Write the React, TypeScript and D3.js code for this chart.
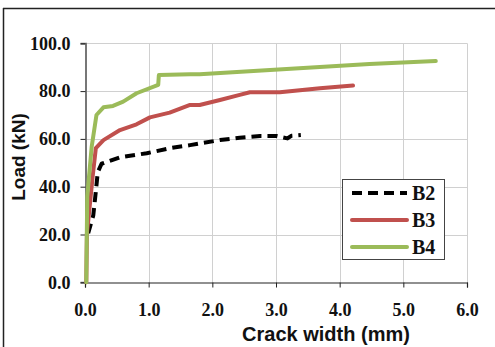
import React, { useEffect, useRef } from "react";
import * as d3 from "d3";

// crack width (mm) / load (kN)
const b2Crack = [0.05, 0.13, 0.17, 0.2, 0.26, 0.55, 0.97, 1.33, 1.65, 1.8, 2.12, 2.43, 2.75, 3.01, 3.18, 3.24, 3.39];
const b2Load = [20.5, 28, 38, 46, 49.6, 52.3, 54, 56.1, 57.4, 58.1, 59.5, 60.5, 61.2, 61.2, 60.2, 61.3, 61.6];

const b3Crack = [0.02, 0.03, 0.12, 0.17, 0.29, 0.55, 0.81, 1.02, 1.33, 1.65, 1.8, 2.12, 2.43, 2.59, 3.06, 3.69, 4.21];
const b3Load = [0, 20.2, 44.2, 56.1, 59.5, 63.7, 66.1, 69, 71, 74.2, 74.2, 76.3, 78.4, 79.5, 79.5, 81.2, 82.3];

const b4Crack = [0.02, 0.035, 0.105, 0.18, 0.29, 0.44, 0.6, 0.81, 1.15, 1.16, 1.65, 1.8, 4.47, 5.51];
const b4Load = [0, 35.8, 56.7, 70, 73.2, 73.8, 75.6, 79.1, 82.6, 86.7, 87, 87, 91.3, 92.6];

const seriesNames = ["B2", "B3", "B4"];
const seriesColors = ["#000000", "#C0504D", "#9BBB59"];
const xTicks = [0, 1, 2, 3, 4, 5, 6];
const yTicks = [0, 20, 40, 60, 80, 100];

function App() {
  const chartRef = useRef<SVGSVGElement>(null);

  useEffect(() => {
    drawChart();
  }, []);

  const drawChart = () => {
    const svg = d3.select(chartRef.current);
    svg.selectAll("*").remove();

    const x = d3.scaleLinear().domain([0, 6]).range([85, 467]);
    const y = d3.scaleLinear().domain([0, 100]).range([282.3, 43.3]);

    // outer frame (top and left edges only visible)
    svg.append("line").attr("x1", 3).attr("x2", 495).attr("y1", 8.5).attr("y2", 8.5)
      .attr("stroke", "#222").attr("stroke-width", 1.5);
    svg.append("line").attr("x1", 3.5).attr("x2", 3.5).attr("y1", 8).attr("y2", 347)
      .attr("stroke", "#222").attr("stroke-width", 1.5);

    // gridlines
    const grid = svg.append("g").attr("stroke", "#d0d0d0").attr("stroke-width", 1);
    grid.selectAll(".gy").data(yTicks.slice(1)).enter().append("line")
      .attr("x1", x(0)).attr("x2", x(6))
      .attr("y1", d => Math.round(y(d)) + 0.5).attr("y2", d => Math.round(y(d)) + 0.5);
    grid.selectAll(".gx").data(xTicks.slice(1)).enter().append("line")
      .attr("y1", y(0)).attr("y2", y(100))
      .attr("x1", d => Math.round(x(d)) + 0.5).attr("x2", d => Math.round(x(d)) + 0.5);

    // axes
    const xAxis = svg.append("g")
      .attr("transform", `translate(0,${Math.round(y(0)) + 0.5})`)
      .call(d3.axisBottom(x).tickValues(xTicks).tickSize(5).tickFormat(d3.format(".1f")));
    xAxis.select(".domain").attr("stroke", "#222").attr("stroke-width", 1.2);
    xAxis.selectAll(".tick line").attr("stroke", "#222");
    xAxis.selectAll("text")
      .attr("dy", "1.4em")
      .style("font-family", "'Liberation Serif', 'Times New Roman', serif")
      .style("font-weight", "bold")
      .style("font-size", "18px")
      .attr("fill", "#111");

    const yAxis = svg.append("g")
      .attr("transform", `translate(${Math.round(x(0)) + 0.5},0)`)
      .call(d3.axisLeft(y).tickValues(yTicks).tickSize(5).tickPadding(10).tickFormat(d3.format(".1f")));
    yAxis.select(".domain").attr("stroke", "#777").attr("stroke-width", 2);
    yAxis.selectAll(".tick line").attr("stroke", "#222");
    yAxis.selectAll("text")
      .style("font-family", "'Liberation Serif', 'Times New Roman', serif")
      .style("font-weight", "bold")
      .style("font-size", "18px")
      .attr("fill", "#111");

    // series
    const line = d3.line<[number, number]>()
      .x(d => x(d[0]))
      .y(d => y(d[1]));
    const series = [
      b2Crack.map((c, i) => [c, b2Load[i]] as [number, number]),
      b3Crack.map((c, i) => [c, b3Load[i]] as [number, number]),
      b4Crack.map((c, i) => [c, b4Load[i]] as [number, number]),
    ];
    series.forEach((s, i) => {
      svg.append("path")
        .datum(s)
        .attr("fill", "none")
        .attr("stroke", seriesColors[i])
        .attr("stroke-width", 4)
        .attr("stroke-linejoin", "round")
        .attr("stroke-linecap", i === 0 ? "butt" : "round")
        .attr("stroke-dasharray", i === 0 ? "10,6" : null)
        .attr("d", line);
    });

    // axis titles
    svg.append("text")
      .attr("x", 326)
      .attr("y", 341)
      .attr("text-anchor", "middle")
      .style("font-family", "'Liberation Sans', Arial, sans-serif")
      .style("font-weight", "bold")
      .style("font-size", "20px")
      .attr("fill", "#111")
      .text("Crack width (mm)");

    svg.append("text")
      .attr("transform", "translate(25,157) rotate(-90)")
      .attr("text-anchor", "middle")
      .style("font-family", "'Liberation Sans', Arial, sans-serif")
      .style("font-weight", "bold")
      .style("font-size", "19px")
      .attr("fill", "#111")
      .text("Load (kN)");

    // legend
    const legend = svg.append("g");
    legend.append("rect")
      .attr("x", 342.5).attr("y", 179.5).attr("width", 102).attr("height", 80)
      .attr("fill", "white").attr("stroke", "#444").attr("stroke-width", 1);
    seriesNames.forEach((name, i) => {
      const ly = 193 + i * 27;
      legend.append("line")
        .attr("x1", 352).attr("x2", 407).attr("y1", ly).attr("y2", ly)
        .attr("stroke", seriesColors[i])
        .attr("stroke-width", 4)
        .attr("stroke-linecap", i === 0 ? "butt" : "round")
        .attr("stroke-dasharray", i === 0 ? "10,6" : null);
      legend.append("text")
        .attr("x", 412).attr("y", ly + 7)
        .style("font-family", "'Liberation Serif', 'Times New Roman', serif")
        .style("font-weight", "bold")
        .style("font-size", "20px")
        .attr("fill", "#111")
        .text(name);
    });
  };

  return (
    <svg
      ref={chartRef}
      width={495}
      height={347}
      style={{ position: "absolute", left: 0, top: 0, background: "white" }}
    />
  );
}

export default App;
